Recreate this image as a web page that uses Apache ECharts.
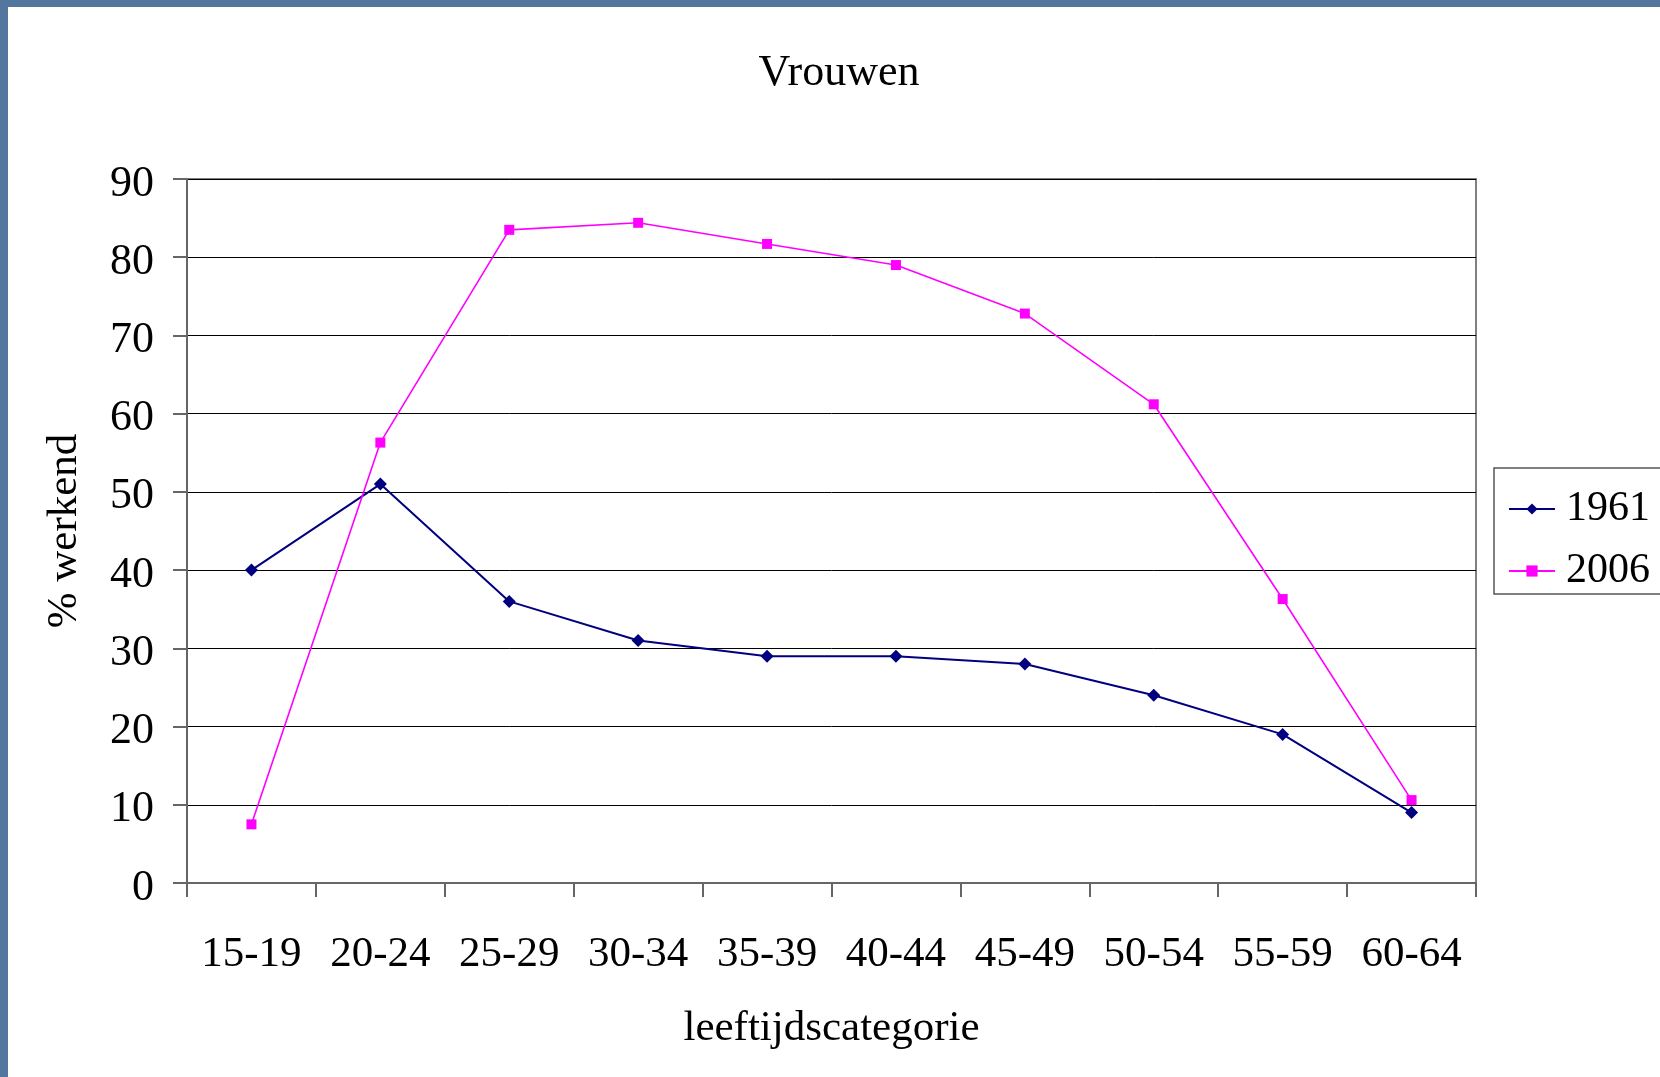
<!DOCTYPE html>
<html>
<head>
<meta charset="utf-8">
<script src="https://cdn.jsdelivr.net/npm/echarts@6/dist/echarts.min.js"></script>
<style>
  html, body { margin: 0; padding: 0; width: 1660px; height: 1077px; overflow: hidden; background: #52769d; }
  #chart { position: absolute; left: 8px; top: 7px; width: 1652px; height: 1070px; background: #ffffff; }
</style>
</head>
<body>
<div id="chart"></div>
<script>
const categories = ['15-19', '20-24', '25-29', '30-34', '35-39', '40-44', '45-49', '50-54', '55-59', '60-64'];
const values1961 = [40, 51, 36, 31, 29, 29, 28, 24, 19, 9];
const values2006 = [7.5, 56.3, 83.5, 84.4, 81.7, 79.0, 72.8, 61.2, 36.3, 10.6];
const seriesNames = ['1961', '2006'];
const titleText = 'Vrouwen';
const yAxisName = '% werkend';
const xAxisName = 'leeftijdscategorie';

const FONT = '"Liberation Serif", "Times New Roman", serif';
const chart = echarts.init(document.getElementById('chart'), null, { renderer: 'canvas' });
chart.setOption({
  animation: false,
  backgroundColor: '#ffffff',
  title: {
    text: titleText,
    left: 831,
    top: 44,
    padding: 0,
    textAlign: 'center',
    textStyle: { fontFamily: FONT, fontSize: 44, fontWeight: 'normal', color: '#000' }
  },
  legend: {
    orient: 'vertical',
    left: 1486,
    top: 461,
    padding: [20, 30, 2, 14],
    itemGap: 20,
    itemWidth: 46,
    itemHeight: 14,
    borderColor: '#555',
    borderWidth: 1.5,
    borderRadius: 0,
    data: seriesNames,
    textStyle: { fontFamily: FONT, fontSize: 42, color: '#000', padding: [0, 0, 0, 6] }
  },
  grid: {
    left: 179, right: 184, top: 172, bottom: 194,
    show: true, borderColor: '#808080', borderWidth: 2, backgroundColor: '#fff'
  },
  xAxis: {
    type: 'category',
    data: categories,
    boundaryGap: true,
    name: xAxisName,
    nameLocation: 'middle',
    nameGap: 124,
    nameTextStyle: { fontFamily: FONT, fontSize: 43, color: '#000' },
    axisLine: { lineStyle: { color: '#666', width: 2 } },
    axisTick: { show: true, inside: false, length: 14, interval: 0, lineStyle: { color: '#666', width: 2 } },
    axisLabel: { margin: 50, interval: 0, fontFamily: FONT, fontSize: 43, color: '#000' },
    splitLine: { show: false }
  },
  yAxis: {
    type: 'value',
    min: 0, max: 90, interval: 10,
    name: yAxisName,
    nameLocation: 'middle',
    nameGap: 101,
    nameTextStyle: { fontFamily: FONT, fontSize: 43, color: '#000' },
    axisLine: { show: true, lineStyle: { color: '#666', width: 2 } },
    axisTick: { show: true, inside: false, length: 14, lineStyle: { color: '#666', width: 2 } },
    axisLabel: { margin: 33, fontFamily: FONT, fontSize: 44, color: '#000', verticalAlign: 'top', lineHeight: 10 },
    splitLine: { show: true, lineStyle: { color: '#000', width: 1 } }
  },
  series: [
    {
      name: seriesNames[0], type: 'line', data: values1961,
      symbol: 'diamond', symbolSize: 13, showAllSymbol: true,
      lineStyle: { color: '#000080', width: 2 },
      itemStyle: { color: '#000080' }
    },
    {
      name: seriesNames[1], type: 'line', data: values2006,
      symbol: 'rect', symbolSize: 10, showAllSymbol: true,
      lineStyle: { color: '#ff00ff', width: 1.6 },
      itemStyle: { color: '#ff00ff' }
    }
  ]
});
</script>
</body>
</html>
